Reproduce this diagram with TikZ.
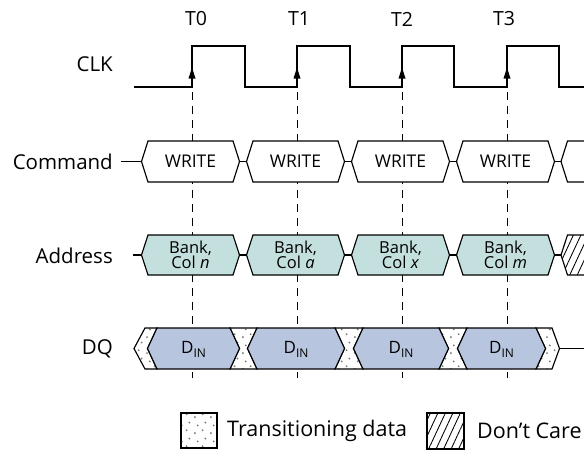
\documentclass[tikz,border=0pt]{standalone}
\usepackage{fontspec}
\setmainfont{Open Sans}
\usetikzlibrary{patterns.meta}
\definecolor{addrfill}{RGB}{196,224,222}
\definecolor{dqfill}{RGB}{184,197,222}
\definecolor{dotgray}{RGB}{120,120,120}
\tikzdeclarepattern{
  name=stip,
  type=colored,
  bottom left={(0pt,0pt)},
  top right={(16pt,16pt)},
  tile size={(16pt,16pt)},
  code={
    \fill[dotgray] (3pt,3pt) circle (1.05pt);
    \fill[dotgray] (11pt,6pt) circle (1.05pt);
    \fill[dotgray] (6pt,11pt) circle (1.05pt);
    \fill[dotgray] (14pt,14pt) circle (1.05pt);
  }
}
\tikzset{
  sig/.style={line width=1.15pt, line join=miter},
  guide/.style={line width=0.9pt, dash pattern=on 8pt off 6pt},
  stipple/.style={sig, preaction={fill=white}, pattern=stip},
  hatched/.style={sig, preaction={fill=white}, pattern={Lines[angle=65,distance=6.8pt,line width=0.85pt]}},
  lbl/.style={font=\fontsize{20.5}{24}\selectfont, anchor=east, inner sep=0pt},
  tlbl/.style={font=\fontsize{19.5}{22}\selectfont, inner sep=0pt},
  cmdtxt/.style={font=\fontsize{17.5}{19}\selectfont, inner sep=0pt},
  addrtxt/.style={font=\fontsize{16.5}{18}\selectfont, inner sep=0pt, align=center},
  dqtxt/.style={font=\fontsize{17}{19}\selectfont, inner sep=0pt},
  legtxt/.style={font=\fontsize{21.5}{24}\selectfont, anchor=west, inner sep=0pt},
}
\begin{document}
\begin{tikzpicture}[x=1pt,y=-1pt]
\useasboundingbox (0,0) rectangle (584,451);

% time labels
\node[tlbl] (t0) at (196,19) {T0};
\node[tlbl] (t1) at (299,19) {T1};
\node[tlbl] (t2) at (402,19) {T2};
\node[tlbl] (t3) at (504,19) {T3};

% signal names
\node[lbl] (clk) at (113,64) {CLK};
\node[lbl] (cmd) at (113,161.5) {Command};
\node[lbl] (addr) at (113,256) {Address};
\node[lbl] (dq) at (113,349) {DQ};

% guide lines
\foreach \x in {192,297,402,507}
  \draw[guide] (\x,92) -- (\x,378);

% clock
\draw[sig] (134,87) -| (192,46) -| (245,87) -| (297,46) -| (350,87)
  -| (402,46) -| (454,87) -| (507,46) -| (559,87) -- (590,87);
\foreach \x in {192,297,402,507}
  \fill (\x-3.5,78.5) -- (\x,67.5) -- (\x+3.5,78.5) -- cycle;

% command row
\draw[sig] (121,161.5) -- (141.5,161.5);
\foreach \c [count=\i] in {190.5,295.5,400.5,505.5} {
  \filldraw[sig, fill=white] (\c-49,161.5) -- (\c-42.5,141) -- (\c+42.5,141)
    -- (\c+49,161.5) -- (\c+42.5,182) -- (\c-42.5,182) -- cycle;
  \draw[sig] (\c+49,161.5) -- (\c+56,161.5);
  \node[cmdtxt] (w\i) at (\c,161.5) {WRITE};
}
\filldraw[sig, fill=white] (590,141) -- (567.5,141) -- (561,161.5) -- (567.5,182) -- (590,182);

% address row
\draw[sig] (133,255) -- (141.5,255);
\foreach \c/\v [count=\i] in {190.5/n,295.5/a,400.5/x,505.5/m} {
  \filldraw[sig, fill=addrfill] (\c-49,255) -- (\c-42.5,235) -- (\c+42.5,235)
    -- (\c+49,255) -- (\c+42.5,275) -- (\c-42.5,275) -- cycle;
  \draw[sig] (\c+49,255) -- (\c+56,255);
  \node[addrtxt] (a\i) at (\c,255) {Bank,\\[-3pt]Col \textit{\v}};
}
\draw[hatched] (590,235) -- (567.5,235) -- (561,255) -- (567.5,275) -- (590,275);

% DQ row
\draw[stipple] (145,328) -- (134,348.5) -- (145,369) -- (157,369) -- (147.5,348.5) -- (157,328) -- cycle;
\draw[stipple] (230,328) -- (257,328) -- (247.5,348.5) -- (257,369) -- (230,369) -- (239.5,348.5) -- cycle;
\draw[stipple] (335,328) -- (363,328) -- (353.5,348.5) -- (363,369) -- (335,369) -- (344.5,348.5) -- cycle;
\draw[stipple] (439,328) -- (467,328) -- (457.5,348.5) -- (467,369) -- (439,369) -- (448.5,348.5) -- cycle;
\draw[stipple] (536,328) -- (552,328) -- (559.5,348.5) -- (552,369) -- (536,369) -- (545.5,348.5) -- cycle;
\draw[sig] (559.5,348.5) -- (590,348.5);
\foreach \l/\r [count=\i] in {157/230,257/335,363/439,467/536} {
  \filldraw[sig, fill=dqfill] (\l-9.5,348.5) -- (\l,328) -- (\r,328)
    -- (\r+9.5,348.5) -- (\r,369) -- (\l,369) -- cycle;
  \node[dqtxt] (d\i) at ({(\l+\r)/2},349) {D\raisebox{-4pt}{\fontsize{12}{12}\selectfont IN}};
}

% legend
\draw[stipple] (181,413) rectangle (217,448);
\node[legtxt] (leg1) at (227,431) {Transitioning data};
\draw[hatched] (427,413) rectangle (464,449);
\node[legtxt] (leg2) at (477,431) {Don’t Care};
\end{tikzpicture}
\end{document}
